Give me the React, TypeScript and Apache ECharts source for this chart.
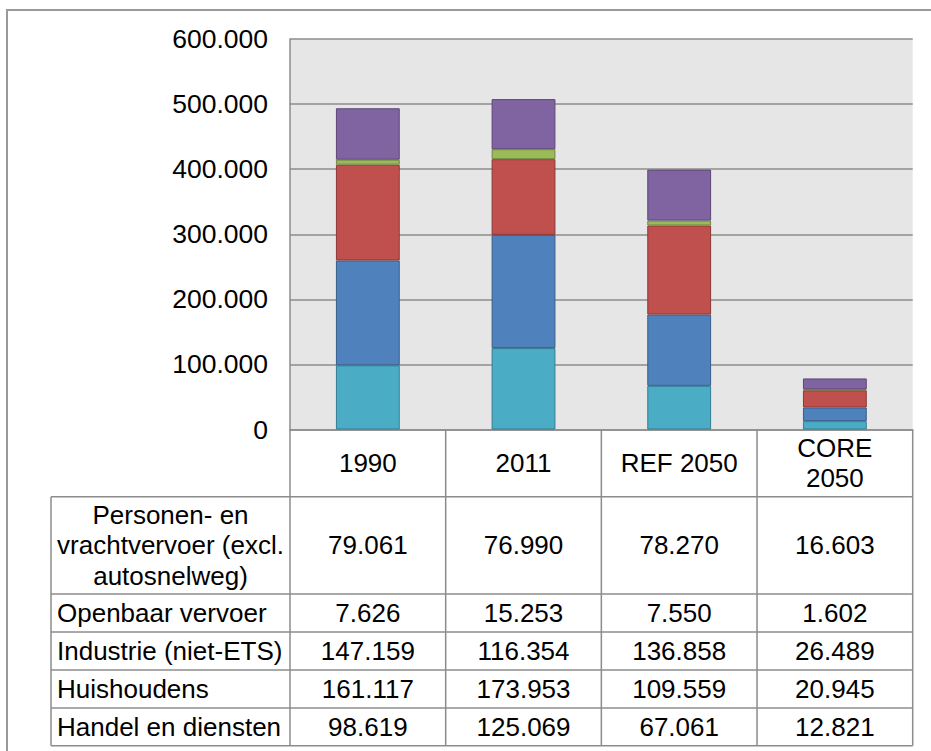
import React, { useEffect, useRef } from "react";
import * as echarts from "echarts";

// ---- data ----
const categories = ["1990", "2011", "REF 2050", "CORE\n2050"];
const rowLabels = [
  "Personen- en\nvrachtvervoer (excl.\nautosnelweg)",
  "Openbaar vervoer",
  "Industrie (niet-ETS)",
  "Huishoudens",
  "Handel en diensten",
];
const personen = [79061, 76990, 78270, 16603];
const openbaar = [7626, 15253, 7550, 1602];
const industrie = [147159, 116354, 136858, 26489];
const huishoudens = [161117, 173953, 109559, 20945];
const handel = [98619, 125069, 67061, 12821];
const yMin = 0;
const yMax = 600000;
const yStep = 100000;

const tableRows = [personen, openbaar, industrie, huishoudens, handel];

const fmt = (v: number) => String(v).replace(/\B(?=(\d{3})+(?!\d))/g, ".");

const FONT = "'Liberation Sans', Arial, Helvetica, sans-serif";
const FS = 26;
const FS_Y = 26.5;
const LINE = "#8c8c8c";
const LH = 30.5;

// layout
const GRID_LEFT = 290;
const GRID_TOP = 39;
const GRID_W = 622.7;
const GRID_H = 390.5;
const TABLE_LEFT = 51;
const HEADER_BOTTOM = 496.7;
const ROW_BOTTOMS = [594, 632, 670, 708, 745.7];

export default function App() {
  const ref = useRef<HTMLDivElement>(null);
  useEffect(() => {
    if (!ref.current) return;
    const chart = echarts.init(ref.current, undefined, { renderer: "svg" });
    const mk = (name: string, data: number[], color: string, border: string) => ({
      name,
      type: "bar" as const,
      stack: "total",
      data,
      barWidth: "41%",
      itemStyle: { color, borderColor: border, borderWidth: 1 },
    });
    chart.setOption({
      animation: false,
      backgroundColor: "#ffffff",
      grid: {
        left: GRID_LEFT,
        top: GRID_TOP,
        width: GRID_W,
        height: GRID_H,
        show: true,
        backgroundColor: "#e6e6e6",
        borderWidth: 0,
      },
      xAxis: {
        type: "category",
        data: categories,
        axisLine: { show: true, lineStyle: { color: LINE, width: 1.5 } },
        axisTick: { show: false },
        axisLabel: {
          color: "#000",
          fontSize: FS,
          fontFamily: FONT,
          lineHeight: 30,
          margin: 33.5,
          verticalAlign: "middle",
          interval: 0,
        },
      },
      yAxis: {
        type: "value",
        min: yMin,
        max: yMax,
        interval: yStep,
        axisLine: { show: true, lineStyle: { color: LINE, width: 1.5 } },
        axisTick: { show: false },
        splitLine: { show: true, lineStyle: { color: LINE, width: 1.5 } },
        axisLabel: {
          color: "#000",
          fontSize: FS_Y,
          fontFamily: FONT,
          margin: 22,
          formatter: (v: number) => fmt(v),
        },
      },
      series: [
        mk("Handel en diensten", handel, "#4bacc6", "#357d92"),
        mk("Huishoudens", huishoudens, "#4f81bd", "#385d8a"),
        mk("Industrie (niet-ETS)", industrie, "#c0504d", "#8c3836"),
        mk("Openbaar vervoer", openbaar, "#9bbb59", "#71893f"),
        mk("Personen- en vrachtvervoer (excl. autosnelweg)", personen, "#8064a2", "#5c4776"),
      ],
    });

    // table built from axis positions
    const band = GRID_W / categories.length;
    const centers = categories.map((_, i) => chart.convertToPixel({ xAxisIndex: 0 }, i) as number);
    const right = GRID_LEFT + GRID_W;
    const bottom = ROW_BOTTOMS[ROW_BOTTOMS.length - 1];
    const graphic: any[] = [];
    const line = (x1: number, y1: number, x2: number, y2: number) =>
      graphic.push({
        type: "line",
        silent: true,
        z: 10,
        shape: { x1, y1, x2, y2 },
        style: { stroke: LINE, lineWidth: 1.5 },
      });
    const text = (t: string, x: number, y: number, align: string) =>
      graphic.push({
        type: "text",
        silent: true,
        z: 11,
        x,
        y,
        style: {
          text: t,
          fontSize: FS,
          fontFamily: FONT,
          fill: "#000",
          align,
          verticalAlign: "middle",
        },
      });
    // outer frame
    graphic.push({
      type: "rect",
      silent: true,
      z: 0,
      shape: { x: 7, y: 10, width: 1000, height: 1000 },
      style: { fill: "none", stroke: "#9a9a9a", lineWidth: 2 },
    });
    // vertical column lines
    for (let i = 0; i <= categories.length; i++) {
      const x = i === categories.length ? right : centers[i] - band / 2;
      line(x, GRID_TOP + GRID_H, x, bottom);
    }
    line(TABLE_LEFT, HEADER_BOTTOM, TABLE_LEFT, bottom);
    line(TABLE_LEFT, HEADER_BOTTOM, right, HEADER_BOTTOM);
    ROW_BOTTOMS.forEach((y) => line(TABLE_LEFT, y, right, y));

    const tops = [HEADER_BOTTOM, ...ROW_BOTTOMS];
    tableRows.forEach((vals, r) => {
      const yc = (tops[r] + tops[r + 1]) / 2;
      const parts = rowLabels[r].split("\n");
      const multi = parts.length > 1;
      parts.forEach((p, k) => {
        const y = yc + (k - (parts.length - 1) / 2) * LH;
        text(p, multi ? (TABLE_LEFT + GRID_LEFT) / 2 : TABLE_LEFT + 6, y, multi ? "center" : "left");
      });
      vals.forEach((v, c) => text(fmt(v), centers[c], yc, "center"));
    });
    chart.setOption({ graphic });

    return () => chart.dispose();
  }, []);
  return (
    <div
      ref={ref}
      style={{ position: "fixed", left: 0, top: 0, width: 931, height: 751 }}
    />
  );
}
